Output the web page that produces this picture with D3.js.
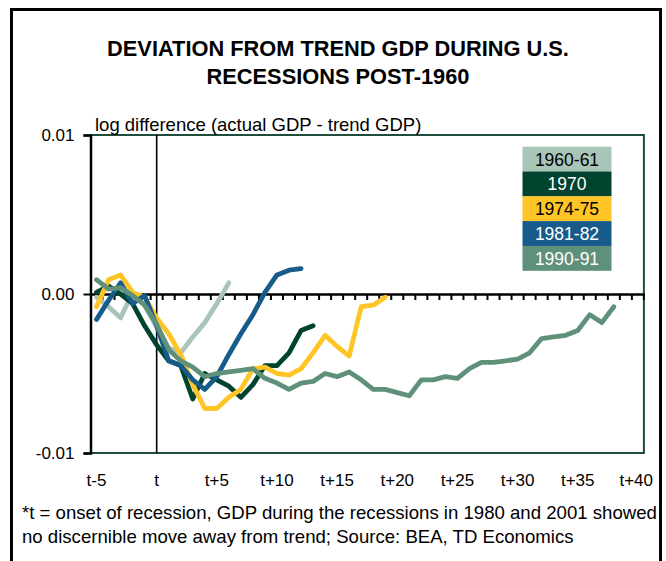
<!DOCTYPE html>
<html><head><meta charset="utf-8">
<script src="https://cdn.jsdelivr.net/npm/d3@7/dist/d3.min.js"></script>
<style>body{margin:0;background:#fff}svg{display:block;font-family:"Liberation Sans",Arial,sans-serif}</style>
</head><body><svg id="c" width="666" height="561"></svg>
<script>
const categories = ["t-5","t-4","t-3","t-2","t-1","t","t+1","t+2","t+3","t+4","t+5","t+6","t+7","t+8","t+9","t+10","t+11","t+12","t+13","t+14","t+15","t+16","t+17","t+18","t+19","t+20","t+21","t+22","t+23","t+24","t+25","t+26","t+27","t+28","t+29","t+30","t+31","t+32","t+33","t+34","t+35","t+36","t+37","t+38","t+39","t+40"];
const tickLabels = ["t-5","t","t+5","t+10","t+15","t+20","t+25","t+30","t+35","t+40"];
const yTicks = [-0.01, 0, 0.01];
const yTickLabels = ["-0.01","0.00","0.01"];
const seriesNames = ["1960-61","1970","1974-75","1981-82","1990-91"];
const seriesColors = ["#a9c5b8","#00432f","#ffc425","#175b8b","#5f9079"];
const legendText = ["#000","#fff","#000","#fff","#fff"];
const s1960 = [-0.0002,-0.0008,-0.0015,0.0001,-0.0007,-0.0021,-0.0034,-0.0037,-0.0027,-0.0018,-0.0006,0.0007];
const s1970 = [0.0001,0.0005,0.0000,-0.0006,-0.0020,-0.0032,-0.0042,-0.0045,-0.0066,-0.0050,-0.0054,-0.0058,-0.0065,-0.0057,-0.0045,-0.0045,-0.0037,-0.0023,-0.0020];
const s1974 = [-0.0008,0.0009,0.0012,0.0001,-0.0002,-0.0015,-0.0025,-0.0038,-0.0057,-0.0072,-0.0072,-0.0065,-0.0060,-0.0047,-0.0046,-0.0050,-0.0051,-0.0047,-0.0037,-0.0026,-0.0033,-0.0039,-0.0008,-0.0007,-0.0002];
const s1981 = [-0.0016,-0.0004,0.0007,-0.0006,-0.0001,-0.0020,-0.0042,-0.0045,-0.0054,-0.0060,-0.0052,-0.0038,-0.0025,-0.0013,0.0001,0.0012,0.0015,0.0016];
const s1990 = [0.0009,0.0003,0.0004,-0.0001,-0.0007,-0.0019,-0.0035,-0.0042,-0.0046,-0.0052,-0.0050,-0.0049,-0.0048,-0.0047,-0.0053,-0.0056,-0.0060,-0.0056,-0.0055,-0.0050,-0.0052,-0.0049,-0.0054,-0.0060,-0.0060,-0.0062,-0.0064,-0.0054,-0.0054,-0.0052,-0.0053,-0.0047,-0.0043,-0.0043,-0.0042,-0.0041,-0.0037,-0.0028,-0.0027,-0.0026,-0.0023,-0.0013,-0.0018,-0.0008];
const allSeries = [s1960,s1970,s1974,s1981,s1990];

const svg = d3.select("#c");
svg.append("rect").attr("x",0).attr("y",0).attr("width",666).attr("height",561).attr("fill","#fff");
// outer frame
svg.append("rect").attr("x",11.5).attr("y",9.5).attr("width",649).attr("height",600)
  .attr("fill","none").attr("stroke","#000").attr("stroke-width",3);

// title
const title = svg.append("text").attr("text-anchor","middle").attr("font-weight","bold").attr("font-size",21.8).attr("fill","#000");
title.append("tspan").attr("x",338).attr("y",56).text("DEVIATION FROM TREND GDP DURING U.S.");
title.append("tspan").attr("x",338).attr("y",84).text("RECESSIONS POST-1960");

const L = 90.5, R = 643.9, T = 135, B = 453;
const x = d3.scaleBand().domain(categories).range([L,R]).padding(0);
const y = d3.scaleLinear().domain([-0.01,0.01]).range([B,T]);
const cx = c => x(c) + x.bandwidth()/2;

// plot border (top, right, bottom)
svg.append("path").attr("d",`M${L},${T}H${R}V${B}H${L}`).attr("fill","none").attr("stroke","#1e4d3c").attr("stroke-width",2);

// y axis
const yAxis = d3.axisLeft(y).tickValues(yTicks).tickSize(7).tickFormat((d,i)=>yTickLabels[i]);
const gy = svg.append("g").attr("transform",`translate(${L},0)`).call(yAxis);
gy.select(".domain").attr("stroke","#000").attr("stroke-width",2.5);
gy.selectAll(".tick line").attr("stroke","#000").attr("stroke-width",2);
gy.selectAll(".tick text").attr("font-size",17).attr("fill","#000").attr("x",-16).attr("font-family","Liberation Sans, Arial, sans-serif");

// zero axis with ticks at category boundaries
const xAxis = d3.axisBottom(x).tickSize(0).tickFormat("");
const gx = svg.append("g").attr("transform",`translate(0,${y(0)})`).call(xAxis);
gx.select(".domain").attr("stroke","#000").attr("stroke-width",2.5);
gx.selectAll(".tick").remove();
gx.selectAll("line.bt").data(categories).enter().append("line")
  .attr("x1",d=>x(d)+x.bandwidth()).attr("x2",d=>x(d)+x.bandwidth())
  .attr("y1",0).attr("y2",6).attr("stroke","#000").attr("stroke-width",2);

// vertical line at t
svg.append("line").attr("x1",cx("t")).attr("x2",cx("t")).attr("y1",T).attr("y2",B).attr("stroke","#000").attr("stroke-width",1.6);

// x labels
const xl = svg.append("g").selectAll("text").data(tickLabels).enter().append("text")
  .attr("x",d=>cx(d)).attr("y",486).attr("text-anchor","middle").attr("font-size",17).attr("fill","#000").text(d=>d);
xl.each(function(){ const w=this.getComputedTextLength(); const cxv=+this.getAttribute("x"); if(cxv+w/2>653) this.setAttribute("x",653-w/2); });

// y axis title
svg.append("text").attr("x",95).attr("y",131).attr("font-size",18.5).attr("fill","#000").text("log difference (actual GDP - trend GDP)");

// lines
const line = d3.line().x((d,i)=>cx(categories[i])).y(d=>y(d));
allSeries.forEach((s,k)=>{
  svg.append("path").datum(s).attr("d",line).attr("fill","none").attr("stroke",seriesColors[k])
    .attr("stroke-width",4.8).attr("stroke-linejoin","round").attr("stroke-linecap","round");
});

// legend
const lg = svg.append("g");
seriesNames.forEach((n,k)=>{
  lg.append("rect").attr("x",522.5).attr("y",146.7+k*24.8).attr("width",89).attr("height",24.9).attr("fill",seriesColors[k]);
  lg.append("text").attr("x",567).attr("y",146.7+k*24.8+18.8).attr("text-anchor","middle").attr("font-size",17.5).attr("fill",legendText[k]).text(n);
});

// footnote
const fn = svg.append("text").attr("font-size",18.6).attr("fill","#000");
fn.append("tspan").attr("x",22).attr("y",519).text("*t = onset of recession, GDP during the recessions in 1980 and 2001 showed");
fn.append("tspan").attr("x",22).attr("y",543).text("no discernible move away from trend; Source: BEA, TD Economics");
</script></body></html>
